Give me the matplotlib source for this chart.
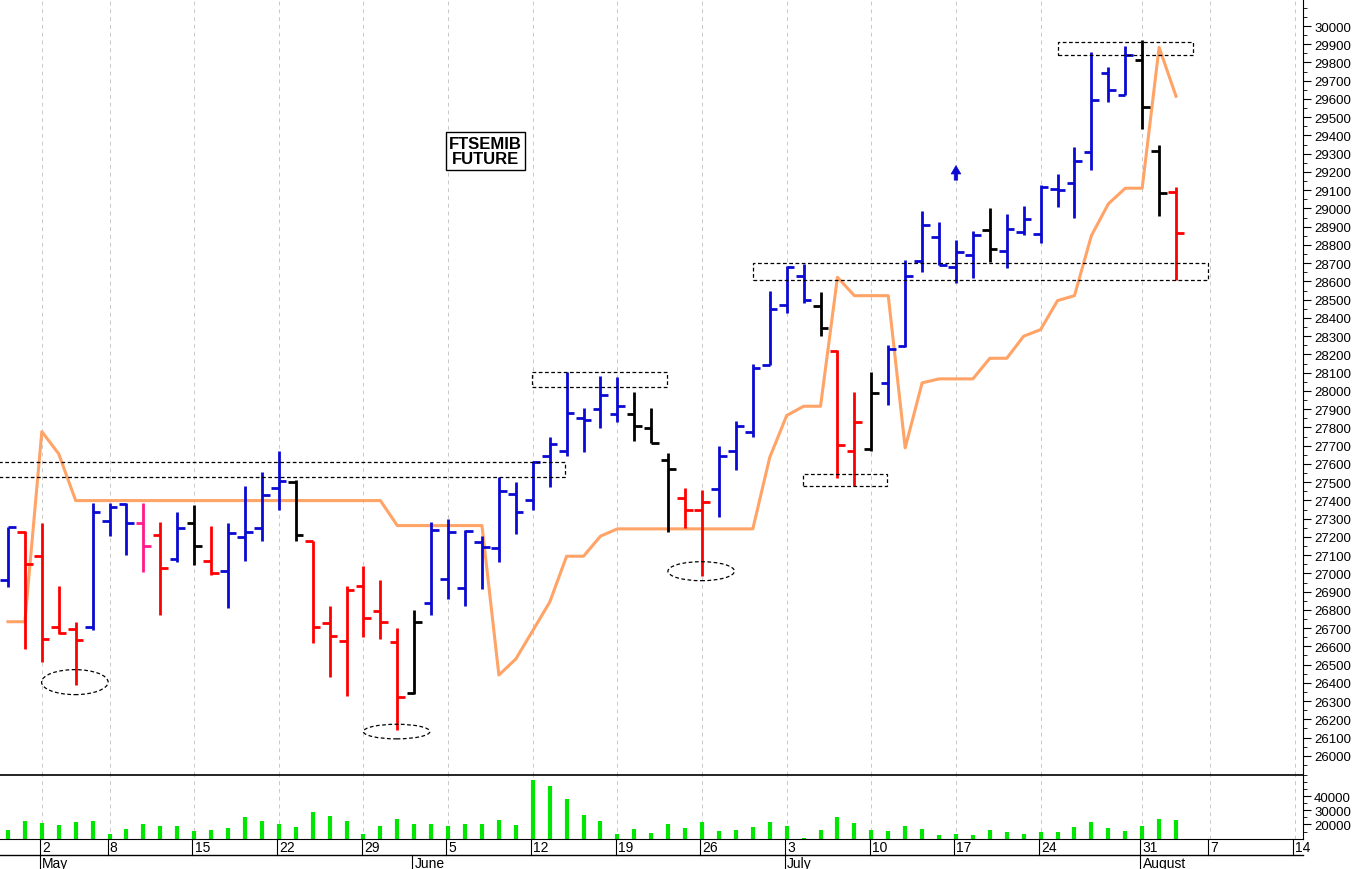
import matplotlib
matplotlib.use("Agg")
import matplotlib.pyplot as plt
from matplotlib.patches import Rectangle, Ellipse
import matplotlib.transforms as mtransforms
import numpy as np

plt.rcParams["font.family"] = ["Liberation Sans", "DejaVu Sans"]

opens = [26964,27229,27097,26705,26696,26705,27289,27380,27275,27211,27079,27275,27066,27012,27198,27249,27467,27503,27178,26728,
         26628,26930,26793,26626,26345,26838,26970,26919,27174,27138,27435,27404,27642,27673,27850,27901,27872,27872,27795,27622,
         27412,27348,27463,27673,27777,28142,28471,28628,28464,28221,27669,27682,28044,28248,28714,28845,28678,28745,28882,28768,
         28869,28860,29107,29140,29311,29742,29622,29814,29317,29089]
highs = [27254,27234,27275,26930,26732,27386,27386,27386,27386,27284,27335,27377,27262,27276,27478,27558,27673,27512,27178,26823,
         26933,27042,26966,26699,26801,27280,27298,27238,27207,27527,27503,27618,27749,28106,27905,28080,28075,27993,27905,27658,
         27467,27459,27700,27837,28148,28549,28686,28696,28541,28224,27996,28106,28252,28718,28988,28928,28827,28878,29001,28970,
         29012,29129,29189,29335,29855,29774,29889,29925,29348,29116]
lows = [26926,26586,26514,26668,26391,26692,27207,27103,27006,26774,27061,27048,26991,26809,27070,27175,27349,27175,26617,26430,
        26327,26653,26641,26144,26338,26772,26857,26823,26915,27065,27214,27348,27475,27646,27664,27795,27832,27728,27713,27225,
        27247,26988,27311,27567,27746,28142,28427,28482,28303,27523,27481,27673,27923,28239,28651,28690,28592,28621,28708,28672,
        28855,28810,29006,28945,29212,29582,29622,29436,28960,28610]
closes = [27254,27054,26641,26674,26635,27335,27362,27275,27149,27028,27247,27149,27001,27220,27229,27430,27507,27212,26705,26659,
          26911,26756,26736,26325,26736,27240,27225,27234,27143,27453,27335,27612,27709,27879,27843,27978,27916,27806,27713,27572,
          27349,27393,27645,27806,28124,28449,28678,28500,28345,27706,27828,27987,28230,28628,28909,28690,28763,28855,28778,28888,
          28942,29116,29103,29262,29596,29651,29841,29554,29085,28866]
bar_colors = list("BRRRRBBBPR" "BKRBBBBKRR" "RRRRKBBBBB" "BBBBBBBKKK"
                  "RRBBBBBBKR" "RKBBBBBBKB" "BBBBBBBKKR")
trail = [26735,26735,27777,27655,27399,27399,27399,27399,27399,27399,27399,27399,27399,27399,27399,27399,27399,27399,27399,27399,
         27399,27399,27399,27262,27262,27262,27262,27262,27262,26443,26531,26686,26842,27094,27094,27204,27244,27244,27244,27244,
         27244,27244,27244,27244,27244,27636,27865,27916,27916,28623,28522,28522,28522,27688,28044,28066,28066,28066,28179,28179,
         28300,28336,28495,28522,28851,29025,29111,29111,29883,29615]
volume = [15900,22200,21300,19400,21500,22700,13300,16800,20600,19100,19100,15600,16300,17500,25500,22200,20600,18200,29000,26200,
          22200,13500,18900,24100,20600,20100,18900,20600,20600,23400,19800,51700,47500,37900,26900,22700,13500,16800,14200,20600,
          17500,21700,15600,16100,18000,22000,18700,10700,16100,25200,21300,16100,15600,19100,16600,12800,13000,12800,16100,14700,
          13500,14700,14700,18200,22000,17500,15600,18700,24100,23100]
day_ticks = [2, 6, 11, 16, 21, 26, 31, 36, 41, 46, 51, 56, 61, 67, 71, 76]
day_labels = ["2", "8", "15", "22", "29", "5", "12", "19", "26", "3", "10", "17", "24", "31", "7", "14"]
month_ticks = [2, 24, 46, 67]
month_labels = ["May", "June", "July", "August"]

cmap = {"B": "#0a0ad2", "R": "#ff0000", "K": "#000000", "P": "#ff1a8c"}
cols = [cmap[c] for c in bar_colors]
x = np.arange(len(opens))

fig = plt.figure(figsize=(13.52, 8.70), dpi=100)
W, H = 1352, 870
axp = fig.add_axes([0, (H - 776) / H, 1303 / W, 776 / H])
axv = fig.add_axes([0, (H - 840) / H, 1303 / W, 64 / H])
xlim = (-0.47, 76.5)

axp.vlines(x, lows, highs, colors=cols, lw=2.0, zorder=3)
axp.hlines(opens, x - 0.45, x, colors=cols, lw=2.0, zorder=3)
axp.hlines(closes, x, x + 0.45, colors=cols, lw=2.0, zorder=3)
axp.plot(x, trail, color="#ffa366", lw=2.2, zorder=2)
axp.set_xlim(*xlim)
axp.set_ylim(25895, 30148)
axp.yaxis.tick_right()
axp.set_yticks(np.arange(26000, 30001, 100))
axp.set_yticks(np.arange(25950, 30101, 50), minor=True)
axp.tick_params(axis="y", which="major", direction="out", length=6, labelsize=9.5, pad=2)
axp.tick_params(axis="y", which="minor", direction="out", length=3)
axp.set_xticks(day_ticks)
axp.tick_params(axis="x", length=0, labelbottom=False)
axp.grid(axis="x", color="#c8c8c8", ls=(0, (4, 4)), lw=0.7)
for s in ["top", "left"]:
    axp.spines[s].set_visible(False)

def rect(ax, x0, x1, y0, y1):
    ax.add_patch(Rectangle((x0, y0), x1 - x0, y1 - y0, fill=False, ls=(0, (3, 2)), lw=0.9, ec="black", zorder=4))
rect(axp, -1, 32.9, 27529, 27611)
rect(axp, 30.96, 38.96, 28020, 28106)
rect(axp, 44.0, 70.9, 28610, 28700)
rect(axp, 46.97, 51.93, 27481, 27545)
rect(axp, 62.0, 70.0, 29843, 29914)
for cx, cy, w, h in [(3.95, 26404, 3.93, 137), (22.96, 26133, 3.93, 80), (40.95, 27012, 3.93, 104)]:
    axp.add_patch(Ellipse((cx, cy), w, h, fill=False, ls=(0, (3, 2)), lw=0.9, ec="black", zorder=4))
axp.annotate("", xy=(56, 29250), xytext=(56, 29140),
             arrowprops=dict(arrowstyle="simple,head_length=0.6,head_width=0.7,tail_width=0.25",
                             color="#0a0ad2", lw=0.5))
axp.text(28.2, 29315, "FTSEMIB\nFUTURE", ha="center", va="center", fontsize=12, fontweight="bold",
         bbox=dict(boxstyle="square,pad=0.2", fc="white", ec="black", lw=1), linespacing=1.05)

axv.vlines(x, 0, volume, colors="#00e600", lw=3.0)
axv.set_xlim(*xlim)
axv.set_ylim(9700, 54900)
axv.yaxis.tick_right()
axv.set_yticks([20000, 30000, 40000])
axv.set_yticks(np.arange(15000, 55001, 5000), minor=True)
axv.tick_params(axis="y", which="major", direction="out", length=6, labelsize=9.5, pad=2)
axv.tick_params(axis="y", which="minor", direction="out", length=3)
axv.set_xticks(day_ticks)
axv.tick_params(axis="x", length=0, labelbottom=False)
axv.grid(axis="x", color="#c8c8c8", ls=(0, (4, 4)), lw=0.7)
axv.spines["left"].set_visible(False)
axv.spines["top"].set_linewidth(1.2)

tr = mtransforms.blended_transform_factory(axv.transData, fig.transFigure)
y_top = (H - 840) / H
y_mid = (H - 856) / H
axv.plot([xlim[0], xlim[1]], [y_mid, y_mid], transform=tr, color="black", lw=1, clip_on=False)
for t, l in zip(day_ticks, day_labels):
    axv.plot([t - 0.1, t - 0.1], [y_top, y_mid], transform=tr, color="black", lw=0.8, clip_on=False)
    axv.text(t + 0.02, (y_top + y_mid) / 2, l, transform=tr, fontsize=10, ha="left", va="center", clip_on=False)
for t, l in zip(month_ticks, month_labels):
    axv.plot([t - 0.12, t - 0.12], [y_mid, 0], transform=tr, color="black", lw=0.8, clip_on=False)
    axv.text(t + 0.02, y_mid / 2 - 0.001, l, transform=tr, fontsize=10, ha="left", va="center", clip_on=False)

fig.savefig("out.png", dpi=100)
